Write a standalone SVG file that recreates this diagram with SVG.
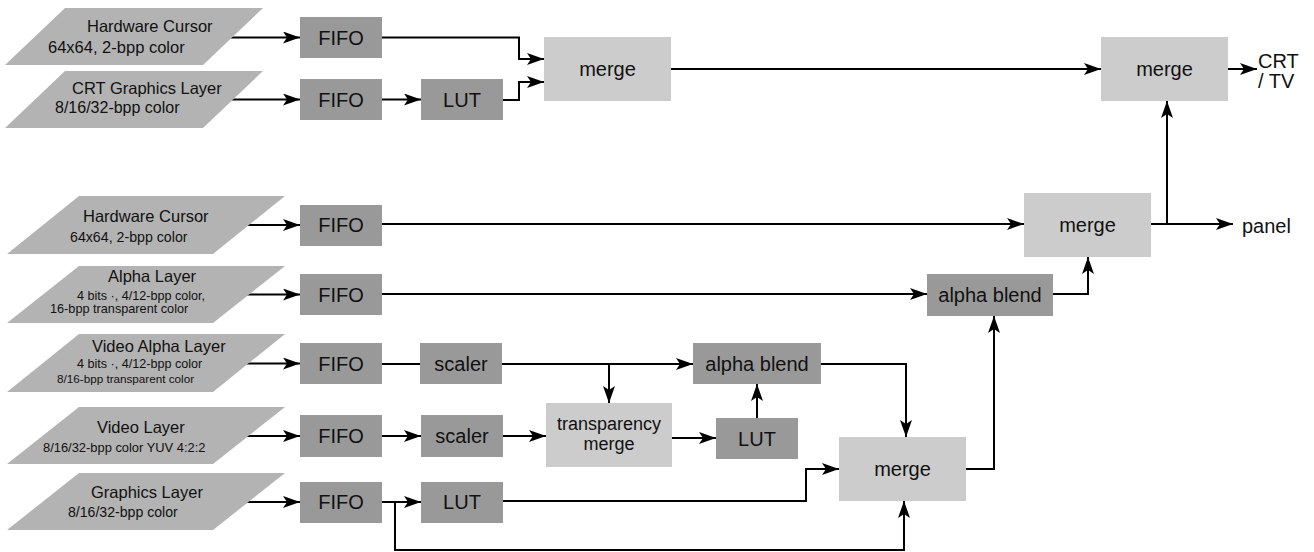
<svg xmlns="http://www.w3.org/2000/svg" width="1314" height="552" viewBox="0 0 1314 552">
<style>
  .src { fill: #b3b3b3; }
  .dk { fill: #999999; }
  .lt { fill: #cccccc; }
  text { font-family: "Liberation Sans", Arial, Helvetica, sans-serif; fill: #111111; }
  .bl { font-size: 20px; text-anchor: middle; }
  .t1 { font-size: 16.5px; }
  .c { fill: none; stroke: #000000; stroke-width: 2; }
  .a { marker-end: url(#ah); }
</style>
<defs>
  <marker id="ah" markerUnits="userSpaceOnUse" viewBox="0 0 17 12" refX="17" refY="6" markerWidth="17" markerHeight="12" orient="auto">
    <path d="M0,0 L17,6 L0,12 L4,6 Z" fill="#000000"/>
  </marker>
</defs>
<rect width="1314" height="552" fill="#ffffff"/>
<g id="connectors">
  <path class="c a" d="M225,37.5 H300"/>
  <path class="c a" d="M225,99.5 H300"/>
  <path class="c a" d="M382,99.5 H421"/>
  <path class="c a" d="M382,37.5 H519 V59 H544"/>
  <path class="c a" d="M503,100 H519 V82 H544"/>
  <path class="c a" d="M671,69 H1101"/>
  <path class="c a" d="M1228,69 H1257"/>
  <path class="c a" d="M240,225 H300"/>
  <path class="c a" d="M382,224 H1024"/>
  <path class="c a" d="M1151,224 H1233"/>
  <path class="c a" d="M1167,224 V101"/>
  <path class="c a" d="M240,294.5 H300"/>
  <path class="c a" d="M382,294 H927"/>
  <path class="c a" d="M1053,294 H1088 V257"/>
  <path class="c a" d="M240,363.5 H300"/>
  <path class="c" d="M382,364 H420"/>
  <path class="c a" d="M502,364 H693"/>
  <path class="c a" d="M609,364 V403"/>
  <path class="c a" d="M240,436 H300"/>
  <path class="c a" d="M382,436 H421"/>
  <path class="c a" d="M503,436 H546"/>
  <path class="c a" d="M672,438 H716"/>
  <path class="c a" d="M757,418 V384"/>
  <path class="c a" d="M821,364 H906 V437"/>
  <path class="c a" d="M966,469 H994 V316"/>
  <path class="c a" d="M240,502 H300"/>
  <path class="c a" d="M382,502 H421"/>
  <path class="c a" d="M395,502 V550 H904 V501"/>
  <path class="c a" d="M503,501 H806 V469 H839"/>
</g>
<g id="src-hwcursor1">
  <polygon class="src" points="5,65 65,8 263,8 203,65"/>
  <text class="t1" x="87" y="32">Hardware Cursor</text>
  <text class="t1" x="48" y="53">64x64, 2-bpp color</text>
</g>
<g id="src-crtgfx">
  <polygon class="src" points="5,128 65,71 263,71 203,128"/>
  <text class="t1" x="72" y="94">CRT Graphics Layer</text>
  <text x="55" y="113" style="font-size:16px">8/16/32-bpp color</text>
</g>
<g id="src-hwcursor2">
  <polygon class="src" points="7,254 79,196 285,196 213,254"/>
  <text class="t1" x="83" y="222">Hardware Cursor</text>
  <text x="70" y="242" style="font-size:14.2px">64x64, 2-bpp color</text>
</g>
<g id="src-alpha">
  <polygon class="src" points="7,323 79,266 285,266 213,323"/>
  <text class="t1" x="108" y="282">Alpha Layer</text>
  <text x="77" y="300" style="font-size:12.6px">4 bits ·, 4/12-bpp color,</text>
  <text x="50" y="313" style="font-size:12.7px">16-bpp transparent color</text>
</g>
<g id="src-videoalpha">
  <polygon class="src" points="7,392 79,334 285,334 213,392"/>
  <text class="t1" x="92" y="352">Video Alpha Layer</text>
  <text x="77" y="368" style="font-size:12.6px">4 bits ·, 4/12-bpp color</text>
  <text x="57" y="383" style="font-size:11.7px">8/16-bpp transparent color</text>
</g>
<g id="src-video">
  <polygon class="src" points="7,464 79,407 285,407 213,464"/>
  <text class="t1" x="97" y="433">Video Layer</text>
  <text x="43" y="452" style="font-size:12.9px">8/16/32-bpp color YUV 4:2:2</text>
</g>
<g id="src-graphics">
  <polygon class="src" points="7,530 79,473 285,473 213,530"/>
  <text class="t1" x="91" y="498">Graphics Layer</text>
  <text x="68" y="517" style="font-size:14.1px">8/16/32-bpp color</text>
</g>
<g id="fifo1"><rect class="dk" x="300" y="17" width="82" height="41"/><text class="bl" x="341" y="44.5">FIFO</text></g>
<g id="fifo2"><rect class="dk" x="300" y="79" width="82" height="41"/><text class="bl" x="341" y="106.5">FIFO</text></g>
<g id="fifo3"><rect class="dk" x="300" y="205" width="82" height="41"/><text class="bl" x="341" y="232">FIFO</text></g>
<g id="fifo4"><rect class="dk" x="300" y="274" width="82" height="41"/><text class="bl" x="341" y="301.5">FIFO</text></g>
<g id="fifo5"><rect class="dk" x="300" y="343" width="82" height="41"/><text class="bl" x="341" y="370.5">FIFO</text></g>
<g id="fifo6"><rect class="dk" x="300" y="415" width="82" height="42"/><text class="bl" x="341" y="443">FIFO</text></g>
<g id="fifo7"><rect class="dk" x="300" y="482" width="82" height="41"/><text class="bl" x="341" y="509">FIFO</text></g>
<g id="lut1"><rect class="dk" x="421" y="79" width="82" height="41"/><text class="bl" x="462" y="106.5">LUT</text></g>
<g id="scaler1"><rect class="dk" x="420" y="343" width="82" height="41"/><text class="bl" x="461" y="370.5">scaler</text></g>
<g id="scaler2"><rect class="dk" x="421" y="415" width="82" height="42"/><text class="bl" x="462" y="443">scaler</text></g>
<g id="lut3"><rect class="dk" x="421" y="482" width="82" height="41"/><text class="bl" x="462" y="509">LUT</text></g>
<g id="lut2"><rect class="dk" x="716" y="418" width="82" height="41"/><text class="bl" x="757" y="445.5">LUT</text></g>
<g id="mergeA"><rect class="lt" x="544" y="37" width="127" height="64"/><text class="bl" x="607.5" y="76">merge</text></g>
<g id="mergeCRT"><rect class="lt" x="1101" y="37" width="127" height="64"/><text class="bl" x="1164.5" y="76">merge</text></g>
<g id="mergePanel"><rect class="lt" x="1024" y="193" width="127" height="64"/><text class="bl" x="1087.5" y="232">merge</text></g>
<g id="alphablend1"><rect class="dk" x="927" y="274" width="126" height="42"/><text class="bl" x="990" y="302">alpha blend</text></g>
<g id="alphablend2"><rect class="dk" x="693" y="343" width="128" height="41"/><text class="bl" x="757" y="370.5">alpha blend</text></g>
<g id="transpmerge"><rect class="lt" x="546" y="403" width="126" height="64"/><text x="609" y="430" style="font-size:18px;text-anchor:middle">transparency</text><text x="609" y="450" style="font-size:18px;text-anchor:middle">merge</text></g>
<g id="merge3"><rect class="lt" x="839" y="437" width="127" height="64"/><text class="bl" x="902.5" y="476">merge</text></g>
<g id="out-crt"><text x="1258" y="68" style="font-size:20px">CRT</text><text x="1258" y="88" style="font-size:20px">/ TV</text></g>
<g id="out-panel"><text x="1242" y="233" style="font-size:20px">panel</text></g>
</svg>
